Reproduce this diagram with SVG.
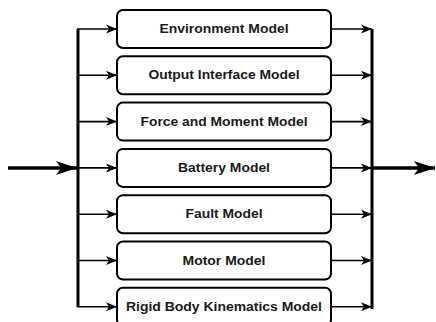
<svg xmlns="http://www.w3.org/2000/svg" width="436" height="322" viewBox="0 0 436 322">
<style>
.box{fill:#fff;stroke:#000;stroke-width:2}
.lbl{font-family:"Liberation Sans",Arial,sans-serif;font-weight:bold;font-size:12px;fill:#1a1a1a;text-anchor:middle}
.br{stroke:#000;stroke-width:1.6;fill:none;marker-end:url(#ah)}
.bus{stroke:#000;stroke-width:3;fill:none}
.io{stroke:#000;stroke-width:3.5;fill:none;marker-end:url(#big)}
</style>
<defs>
<marker id="ah" markerUnits="userSpaceOnUse" markerWidth="12" markerHeight="10" refX="11" refY="5" orient="auto"><path d="M0,0.5 L11,5 L0,9.5 L3,5 z" fill="#000"/></marker>
<marker id="big" markerUnits="userSpaceOnUse" markerWidth="22" markerHeight="16" refX="21" refY="8" orient="auto"><path d="M0,1 L21,8 L0,15 L5,8 z" fill="#000"/></marker>
</defs>
<rect width="436" height="322" fill="#fff"/>
<g id="connectors">
<path class="bus" d="M78,29 V307"/>
<path class="bus" d="M372,29 V309"/>
<path class="io" d="M8,168 H77"/>
<path class="io" d="M372,168 H435"/>
<path class="br" d="M77,29 H117"/>
<path class="br" d="M77,75.3 H117"/>
<path class="br" d="M77,121.6 H117"/>
<path class="br" d="M77,167.9 H117"/>
<path class="br" d="M77,214.2 H117"/>
<path class="br" d="M77,260.5 H117"/>
<path class="br" d="M77,306.8 H117"/>
<path class="br" d="M331,29 H372"/>
<path class="br" d="M331,75.3 H372"/>
<path class="br" d="M331,121.6 H372"/>
<path class="br" d="M331,167.9 H372"/>
<path class="br" d="M331,214.2 H372"/>
<path class="br" d="M331,260.5 H372"/>
<path class="br" d="M331,306.8 H372"/>
</g>
<g id="environment"><rect class="box" x="117" y="10" width="214" height="38" rx="6"/><text class="lbl" x="224" y="33" textLength="129" lengthAdjust="spacingAndGlyphs">Environment Model</text></g>
<g id="output-interface"><rect class="box" x="117" y="56.3" width="214" height="38" rx="6"/><text class="lbl" x="224" y="79.3" textLength="151" lengthAdjust="spacingAndGlyphs">Output Interface Model</text></g>
<g id="force-moment"><rect class="box" x="117" y="102.6" width="214" height="38" rx="6"/><text class="lbl" x="224" y="125.6" textLength="167" lengthAdjust="spacingAndGlyphs">Force and Moment Model</text></g>
<g id="battery"><rect class="box" x="117" y="148.9" width="214" height="38" rx="6"/><text class="lbl" x="224" y="171.9" textLength="92" lengthAdjust="spacingAndGlyphs">Battery Model</text></g>
<g id="fault"><rect class="box" x="117" y="195.2" width="214" height="38" rx="6"/><text class="lbl" x="224" y="218.2" textLength="77" lengthAdjust="spacingAndGlyphs">Fault Model</text></g>
<g id="motor"><rect class="box" x="117" y="241.5" width="214" height="38" rx="6"/><text class="lbl" x="224" y="264.5" textLength="83" lengthAdjust="spacingAndGlyphs">Motor Model</text></g>
<g id="rigid-body"><rect class="box" x="117" y="287.8" width="214" height="38" rx="6"/><text class="lbl" x="224" y="311" textLength="196" lengthAdjust="spacingAndGlyphs">Rigid Body Kinematics Model</text></g>
</svg>
